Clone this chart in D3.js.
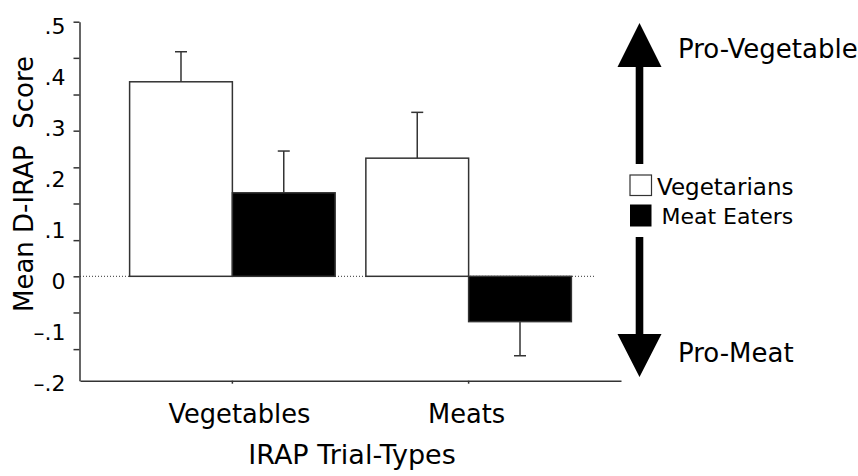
<!DOCTYPE html>
<html>
<head>
<meta charset="utf-8">
<script src="https://cdn.jsdelivr.net/npm/d3@7"></script>
<style>
  html, body { margin: 0; padding: 0; background: #fff; }
  svg { display: block; font-family: "DejaVu Sans", Verdana, sans-serif; }
</style>
</head>
<body>
<svg id="chart" width="858" height="476"></svg>
<script>
// ---- data ----
const categories = ["Vegetables", "Meats"];
const groups = ["Vegetarians", "Meat Eaters"];
const vegetarianMeans = [0.382, 0.232];
const vegetarianSE = [0.059, 0.090];
const meatEaterMeans = [0.164, -0.089];
const meatEaterSE = [0.082, 0.067];
const yTickLabelValues = [0.5, 0.4, 0.3, 0.2, 0.1, 0, -0.1, -0.2];
const yTickLabels = [".5", ".4", ".3", ".2", ".1", "0", "\u2013.1", "\u2013.2"];
const yTickMarks = [0.5, 0.429, 0.357, 0.286, 0.214, 0.143, 0.071, 0, -0.071, -0.143];
const xTitle = "IRAP Trial-Types";
const yTitle = "Mean D-IRAP  Score";
const arrowLabels = ["Pro-Vegetable", "Pro-Meat"];

// ---- build table ----
const table = categories.map((c, i) => ({
  category: c,
  values: [
    { group: groups[0], mean: vegetarianMeans[i], se: vegetarianSE[i] },
    { group: groups[1], mean: meatEaterMeans[i], se: meatEaterSE[i] }
  ]
}));
const fills = { "Vegetarians": "#ffffff", "Meat Eaters": "#000000" };

const svg = d3.select("#chart");
const ink = "#333";
const txt = "#000";

const x = d3.scaleBand().domain(categories).range([80, 621])
  .paddingInner(0.13).paddingOuter(0.21);
const x1 = d3.scaleBand().domain(groups).range([0, x.bandwidth()]).padding(0);
const y = d3.scaleLinear().domain([-0.205, 0.5]).range([380.7, 21.7]);

// zero dotted line
svg.append("line")
  .attr("x1", 80).attr("x2", 595)
  .attr("y1", y(0)).attr("y2", y(0))
  .attr("stroke", ink).attr("stroke-width", 1)
  .attr("stroke-dasharray", "1,2");

// bars
const g = svg.append("g");
const grp = g.selectAll("g.cat").data(table).join("g")
  .attr("class", "cat")
  .attr("transform", d => `translate(${x(d.category)},0)`);

grp.selectAll("rect").data(d => d.values).join("rect")
  .attr("x", d => x1(d.group))
  .attr("width", x1.bandwidth())
  .attr("y", d => y(Math.max(0, d.mean)))
  .attr("height", d => Math.abs(y(d.mean) - y(0)))
  .attr("fill", d => fills[d.group])
  .attr("stroke", ink)
  .attr("stroke-width", 1.5);

// error bars
const capW = 12;
grp.selectAll("g.err").data(d => d.values).join("g")
  .attr("class", "err")
  .each(function(d) {
    const cx = x1(d.group) + x1.bandwidth() / 2;
    const end = d.mean >= 0 ? d.mean + d.se : d.mean - d.se;
    const sel = d3.select(this);
    sel.append("line")
      .attr("x1", cx).attr("x2", cx)
      .attr("y1", y(d.mean)).attr("y2", y(end))
      .attr("stroke", ink).attr("stroke-width", 1.5);
    sel.append("line")
      .attr("x1", cx - capW / 2).attr("x2", cx + capW / 2)
      .attr("y1", y(end)).attr("y2", y(end))
      .attr("stroke", ink).attr("stroke-width", 1.5);
  });

// y axis (marks)
const yAxisMarks = svg.append("g")
  .attr("transform", "translate(79.5,0)")
  .call(d3.axisLeft(y).tickValues(yTickMarks).tickSize(6).tickSizeOuter(0).tickFormat(""));
yAxisMarks.selectAll("path, line").attr("stroke", ink).attr("stroke-width", 1.5);

// y axis labels
const yAxisLabels = svg.append("g")
  .attr("transform", "translate(79.5,5)")
  .call(d3.axisLeft(y).tickValues(yTickLabelValues).tickSize(0).tickPadding(14)
    .tickFormat((d, i) => yTickLabels[i]));
yAxisLabels.select(".domain").remove();
yAxisLabels.selectAll("text")
  .attr("font-size", 22).attr("font-family", "DejaVu Sans").attr("fill", txt);

// x axis
const xLabelNudge = [7, -2];
const xAxis = svg.append("g")
  .attr("transform", `translate(0,${y.range()[0]})`)
  .call(d3.axisBottom(x).tickSize(3).tickSizeOuter(0).tickPadding(21));
xAxis.selectAll("path, line").attr("stroke", ink).attr("stroke-width", 1.5);
xAxis.selectAll("text")
  .attr("font-size", 25.7).attr("font-family", "DejaVu Sans").attr("fill", txt)
  .attr("dx", (d, i) => xLabelNudge[i]);

// axis titles
svg.append("text")
  .attr("x", 352).attr("y", 464)
  .attr("text-anchor", "middle")
  .attr("font-size", 27).attr("fill", txt)
  .text(xTitle);

svg.append("text")
  .attr("transform", "translate(33,184) rotate(-90)")
  .attr("text-anchor", "middle")
  .attr("font-size", 26).attr("fill", txt)
  .style("white-space", "pre")
  .text(yTitle);

// arrows
const ax = 639.5, headHalf = 22, shaftHalf = 3.8;
svg.append("path")
  .attr("d", `M${ax},23 L${ax + headHalf},67 L${ax + shaftHalf},67 L${ax + shaftHalf},164 L${ax - shaftHalf},164 L${ax - shaftHalf},67 L${ax - headHalf},67 Z`)
  .attr("fill", "#000");
svg.append("path")
  .attr("d", `M${ax},377 L${ax + headHalf},334 L${ax + shaftHalf},334 L${ax + shaftHalf},237 L${ax - shaftHalf},237 L${ax - shaftHalf},334 L${ax - headHalf},334 Z`)
  .attr("fill", "#000");

svg.append("text").attr("x", 678).attr("y", 58)
  .attr("font-size", 26).attr("fill", txt).text(arrowLabels[0]);
svg.append("text").attr("x", 678).attr("y", 362)
  .attr("font-size", 26).attr("fill", txt).text(arrowLabels[1]);

// legend
const legend = svg.append("g");
const legendY = [175, 204.5];
const legendTextX = [657, 661.5];
const legendFont = [23, 22];
groups.forEach((gname, i) => {
  legend.append("rect")
    .attr("x", 630).attr("y", legendY[i])
    .attr("width", 21.5).attr("height", i === 0 ? 20.5 : 22)
    .attr("fill", fills[gname])
    .attr("stroke", i === 0 ? ink : "none").attr("stroke-width", 1.2);
  legend.append("text")
    .attr("x", legendTextX[i]).attr("y", legendY[i] + 19.5)
    .attr("font-size", legendFont[i]).attr("fill", txt)
    .text(gname);
});
</script>
</body>
</html>
